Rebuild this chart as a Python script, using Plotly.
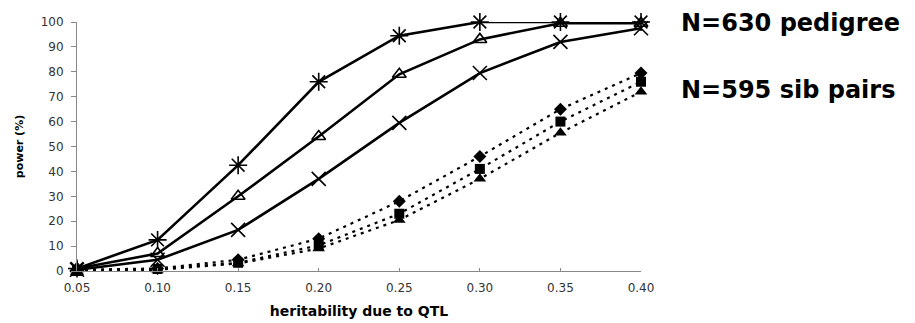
import plotly.graph_objects as go

# Data
heritability = [0.05, 0.10, 0.15, 0.20, 0.25, 0.30, 0.35, 0.40]
tick_labels_x = ["0.05", "0.10", "0.15", "0.20", "0.25", "0.30", "0.35", "0.40"]

ped_asterisk = [1, 12.5, 42.5, 76, 94.5, 100, 100, 100]
ped_triangle = [1, 7, 30, 54, 79, 93, 99.5, 99.5]
ped_cross = [0.5, 4.5, 16.5, 37, 59.5, 79.5, 92, 97.5]

sib_diamond = [0.5, 1, 4.5, 13, 28, 46, 65, 79.5]
sib_square = [0, 0.8, 3.3, 10.3, 23, 41, 60, 76]
sib_triangle = [0, 0.5, 3, 9, 20.5, 37, 55.5, 72]

y_ticks = list(range(0, 101, 10))

FONT = "DejaVu Sans"

fig = go.Figure()

solid = dict(color="black", width=2.6)
dotted = dict(color="black", width=2.2, dash="3px,5px")

fig.add_trace(go.Scatter(x=heritability, y=sib_triangle, mode="lines+markers",
                         line=dotted, marker=dict(symbol="triangle-up", size=11, color="black"),
                         cliponaxis=False, showlegend=False))
fig.add_trace(go.Scatter(x=heritability, y=sib_square, mode="lines+markers",
                         line=dotted, marker=dict(symbol="square", size=10, color="black"),
                         cliponaxis=False, showlegend=False))
fig.add_trace(go.Scatter(x=heritability, y=sib_diamond, mode="lines+markers",
                         line=dotted, marker=dict(symbol="diamond", size=10, color="black"),
                         cliponaxis=False, showlegend=False))

fig.add_trace(go.Scatter(x=heritability, y=ped_cross, mode="lines+markers",
                         line=solid, marker=dict(symbol="x-thin-open", size=14,
                                                 color="black", line=dict(width=1.6, color="black")),
                         cliponaxis=False, showlegend=False))
fig.add_trace(go.Scatter(x=heritability, y=ped_triangle, mode="lines+markers",
                         line=solid, marker=dict(symbol="triangle-up-open", size=12, color="black",
                                                 line=dict(width=1.6, color="black")),
                         cliponaxis=False, showlegend=False))
fig.add_trace(go.Scatter(x=heritability, y=ped_asterisk, mode="lines+markers",
                         line=solid, marker=dict(symbol="asterisk-open", size=15, color="black",
                                                 line=dict(width=1.6, color="black")),
                         cliponaxis=False, showlegend=False))

fig.update_layout(
    width=907, height=315,
    margin=dict(l=69, r=274, t=7, b=46),
    paper_bgcolor="white", plot_bgcolor="white",
    font=dict(family=FONT, color="#222"),
    xaxis=dict(range=[0.05, 0.40], tickvals=heritability, ticktext=tick_labels_x,
               showgrid=False, zeroline=False, showline=True, linecolor="#888", linewidth=1,
               ticks="inside", ticklen=3, tickcolor="#888",
               tickfont=dict(size=12, family=FONT, color="#333"),
               ticklabelstandoff=6,
               title=dict(text="<b>heritability due to QTL</b>",
                          font=dict(size=14, family=FONT, color="black"), standoff=11)),
    yaxis=dict(range=[0, 100], tickvals=y_ticks,
               showgrid=False, zeroline=False, showline=True, linecolor="#888", linewidth=1,
               ticks="outside", ticklen=5, tickcolor="#888",
               tickfont=dict(size=12, family=FONT, color="#333"),
               ticklabelstandoff=5,
               title=dict(text="<b>power (%)</b>",
                          font=dict(size=11, family=FONT, color="black"), standoff=14)),
)

fig.add_annotation(text="<b>N=630 pedigree</b>", xref="paper", yref="paper",
                   x=1.0674, y=0.995, xanchor="left", yanchor="middle", showarrow=False,
                   font=dict(size=24, family=FONT, color="black"))
fig.add_annotation(text="<b>N=595 sib pairs</b>", xref="paper", yref="paper",
                   x=1.0674, y=0.726, xanchor="left", yanchor="middle", showarrow=False,
                   font=dict(size=24, family=FONT, color="black"))

fig.write_html("out.html")
